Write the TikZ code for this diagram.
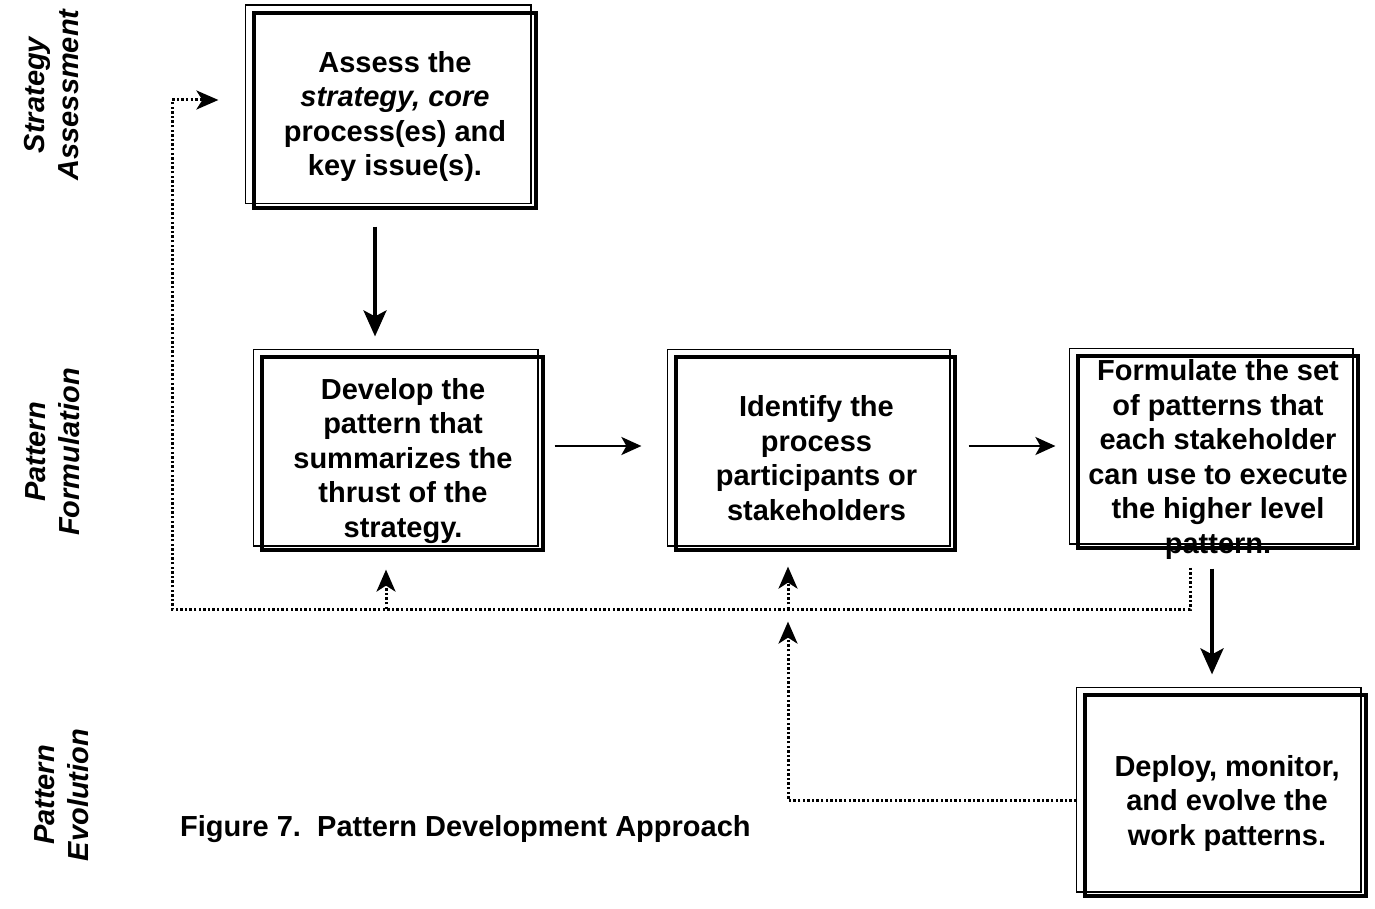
\documentclass[tikz,border=0pt]{standalone}
\usepackage{fontspec}
\setmainfont{Liberation Sans}
\usetikzlibrary{arrows.meta,calc}

\newcommand{\boxfont}{\fontsize{29pt}{34.5pt}\selectfont\bfseries}
\newcommand{\sidefont}{\fontsize{29pt}{34pt}\selectfont\bfseries\itshape}

\tikzset{
  stage/.style={draw, line width=3.2pt, inner sep=0pt, minimum width=280pt, minimum height=194pt},
  stagetext/.style={align=center, inner sep=0pt, font=\boxfont},
  frame/.style={draw, line width=1.8pt},
  sidelabel/.style={rotate=90, align=center, inner sep=0pt, font=\sidefont},
  flow/.style={line width=2.2pt, -{Stealth[length=20pt, width=18pt, inset=5pt]}},
  bigflow/.style={line width=4pt, -{Stealth[length=26pt, width=23pt, inset=6pt]}},
  feedback/.style={line width=3pt, dash pattern=on 2.4pt off 2.2pt,
    -{Stealth[length=22pt, width=19pt, inset=6pt]}}
}

\begin{document}
\begin{tikzpicture}[x=1pt, y=-1pt]
\useasboundingbox (0,0) rectangle (1375,909);

% phase labels down the left margin
\node[sidelabel] (phase1) at (52,95)  {Strategy\\Assessment};
\node[sidelabel] (phase2) at (53,452) {Pattern\\Formulation};
\node[sidelabel] (phase3) at (62,795) {Pattern\\Evolution};

% process boxes
\node[stage, minimum width=282pt, minimum height=195pt] (A) at (395,110.5) {};
\node[stage, minimum width=281pt, minimum height=193pt] (B) at (402.5,453.5) {};
\node[stage, minimum width=279pt, minimum height=193pt] (C) at (815.5,453.5) {};
\node[stage, minimum width=280pt, minimum height=192pt] (D) at (1218,452) {};
\node[stage, minimum width=281pt, minimum height=201pt] (E) at (1225.5,795.5) {};

% second, thinner outline of every box, set up and to the left
\foreach \n in {A,B,C,D,E}
  \draw[frame] ([shift={(-7pt,6pt)}]\n.south west) rectangle ([shift={(-7pt,6pt)}]\n.north east);

% box texts
\node[stagetext] (At) at ($(A)+(0,6)$) {Assess the\\\itshape strategy, core\\process(es) and\\key issue(s).};
\node[stagetext] (Bt) at ($(B)+(0.5,7.5)$) {Develop the\\pattern that\\summarizes the\\thrust of the\\strategy.};
\node[stagetext] (Ct) at ($(C)+(1,4.5)$) {Identify the\\process\\participants or\\stakeholders};
\node[stagetext] (Dt) at ($(D)+(0,7.5)$) {Formulate the set\\of patterns that\\each stakeholder\\can use to execute\\the higher level\\pattern.};
\node[stagetext] (Et) at ($(E)+(1.5,7.5)$) {Deploy, monitor,\\and evolve the\\work patterns.};

% caption
\node[anchor=base west, inner sep=0pt, font=\boxfont] (cap) at (180,836) {Figure 7.\ \ Pattern Development Approach};

% main flow
\coordinate (a1) at ($(A.south)+(-20,17)$);
\draw[bigflow, line width=3.5pt, shorten >=19pt] (a1) -- (a1 |- B.north);
\coordinate (h1) at ($(B.east)+(10,-7.5)$);
\draw[flow, shorten >=33pt] (h1) -- (h1 -| C.west);
\coordinate (h2) at ($(C.east)+(12,-7.5)$);
\draw[flow, shorten >=21pt] (h2) -- (h2 -| D.west);
\coordinate (d1) at ($(D.south)+(-6,19)$);
\draw[bigflow, shorten >=19pt] (d1) -- (d1 |- E.north);

% feedback loops
\coordinate (fbl) at (172,609);
\coordinate (f0) at ($(D.south)+(-28,18)$);
\draw[feedback] (f0) -- (f0 |- fbl) -- (fbl) |- ($(A.west)+(-34,-10.5)$);
\coordinate (bB) at ($(B.south)+(-16.5,18)$);
\draw[feedback] (bB |- fbl) -- (bB);
\coordinate (bC) at ($(C.south)+(-27.5,15)$);
\draw[feedback] (bC |- fbl) -- (bC);
\coordinate (e0) at ($(E.west)+(-7,4.5)$);
\draw[feedback] (e0) -| ($(C.south)+(-27.5,70)$);
\end{tikzpicture}
\end{document}
